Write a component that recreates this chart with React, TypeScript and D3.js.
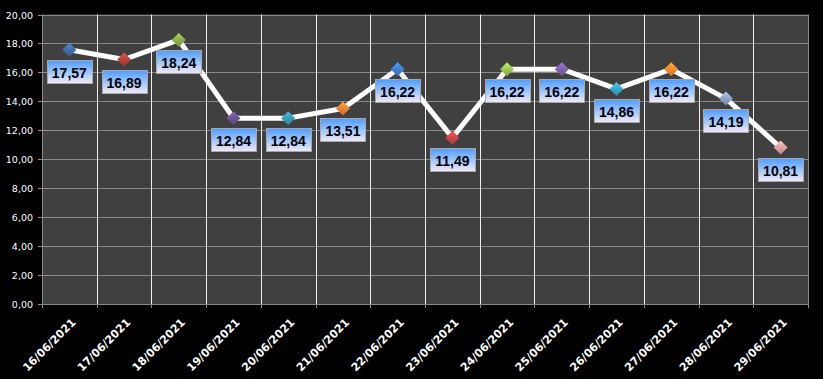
import React from "react";
import * as d3 from "d3";

const categories = ["16/06/2021","17/06/2021","18/06/2021","19/06/2021","20/06/2021","21/06/2021","22/06/2021","23/06/2021","24/06/2021","25/06/2021","26/06/2021","27/06/2021","28/06/2021","29/06/2021"];
const values = [17.57, 16.89, 18.24, 12.84, 12.84, 13.51, 16.22, 11.49, 16.22, 16.22, 14.86, 16.22, 14.19, 10.81];
const markerColors = ["#3f6fae","#b8433f","#8db04a","#70549a","#3b9cb8","#ee8530","#3f82d9","#d04848","#9fc94f","#8062b0","#38a9cc","#f58a2a","#8ea4c8","#dfa0a0"];
const yTicks = [0, 2, 4, 6, 8, 10, 12, 14, 16, 18, 20];

const W = 823, H = 379;
const left = 42, right = 808, top = 14.5, bottom = 304;

const fmt = (v: number) => v.toFixed(2).replace(".", ",");

export default function App() {
  const x = d3.scaleBand<string>().domain(categories).range([left, right]);
  const y = d3.scaleLinear().domain([0, 20]).range([bottom, top]);
  const cx = (c: string) => (x(c) as number) + x.bandwidth() / 2;
  const line = d3.line<number>().x((_, i) => cx(categories[i])).y((d) => y(d));
  const boundaries = categories.map((c) => x(c) as number).concat([right]);
  const ds = 7;
  return (
    <div style={{ position: "fixed", left: 0, top: 0, width: W, height: H, background: "#000" }}>
      <svg width={W} height={H} style={{ display: "block" }}>
        <defs>
          <linearGradient id="lbl" x1="0" y1="0" x2="0" y2="1">
            <stop offset="0" stopColor="#4f9bff" />
            <stop offset="0.5" stopColor="#9cc6ff" />
            <stop offset="1" stopColor="#f4e8f4" />
          </linearGradient>
          {markerColors.map((c, i) => (
            <linearGradient key={i} id={`mk${i}`} x1="0" y1="0" x2="0" y2="1">
              <stop offset="0" stopColor={d3.color(c)!.brighter(0.6).toString()} />
              <stop offset="0.5" stopColor={c} />
              <stop offset="1" stopColor={d3.color(c)!.darker(0.5).toString()} />
            </linearGradient>
          ))}
        </defs>
        <rect x={0} y={0} width={W} height={H} fill="#000" />
        <rect x={left} y={top} width={right - left} height={bottom - top} fill="#404040" />
        {yTicks.map((t) => (
          <line key={t} x1={left - 4} x2={right} y1={Math.round(y(t)) + 0.5} y2={Math.round(y(t)) + 0.5} stroke="#8a8a8a" strokeWidth={1} />
        ))}
        {boundaries.slice(1, -1).map((b, i) => (
          <line key={i} x1={Math.round(b) + 0.5} x2={Math.round(b) + 0.5} y1={top} y2={bottom} stroke="#f0f0f0" strokeWidth={1} />
        ))}
        <line x1={Math.round(left) + 0.5} x2={Math.round(left) + 0.5} y1={top} y2={bottom} stroke="#8a8a8a" />
        <line x1={Math.round(right) + 0.5} x2={Math.round(right) + 0.5} y1={top} y2={bottom} stroke="#8a8a8a" />
        {boundaries.map((b, i) => (
          <line key={i} x1={Math.round(b) + 0.5} x2={Math.round(b) + 0.5} y1={bottom} y2={bottom + 4} stroke="#8a8a8a" />
        ))}
        {yTicks.map((t) => (
          <text key={t} x={33} y={y(t) + 4} textAnchor="end" fill="#fff" fontFamily="DejaVu Sans" fontSize={9.5}>{fmt(t)}</text>
        ))}
        {categories.map((c) => (
          <text key={c} transform={`translate(${cx(c) + 7},${bottom + 19}) rotate(-45)`} textAnchor="end" fill="#fff" fontFamily="DejaVu Sans" fontWeight="bold" fontSize={11}>{c}</text>
        ))}
        <path d={line(values) || ""} fill="none" stroke="#fff" strokeWidth={5} strokeLinejoin="round" />
        {values.map((v, i) => {
          const px = cx(categories[i]), py = y(v);
          return (
            <path key={i} d={`M${px},${py - ds}L${px + ds},${py}L${px},${py + ds}L${px - ds},${py}Z`} fill={`url(#mk${i})`} />
          );
        })}
        {values.map((v, i) => {
          const px = cx(categories[i]), py = y(v);
          const bw = 45, bh = 23;
          const bx = Math.round(px - bw / 2) + 0.5, by = Math.round(py + 10) + 0.5;
          return (
            <g key={i}>
              <rect x={bx} y={by} width={bw} height={bh} fill="url(#lbl)" stroke="#a8a8a8" strokeWidth={1} />
              <text x={px} y={by + 17} textAnchor="middle" fill="#000" fontFamily="Liberation Sans" fontWeight="bold" fontSize={14}>{fmt(v)}</text>
            </g>
          );
        })}
      </svg>
    </div>
  );
}
